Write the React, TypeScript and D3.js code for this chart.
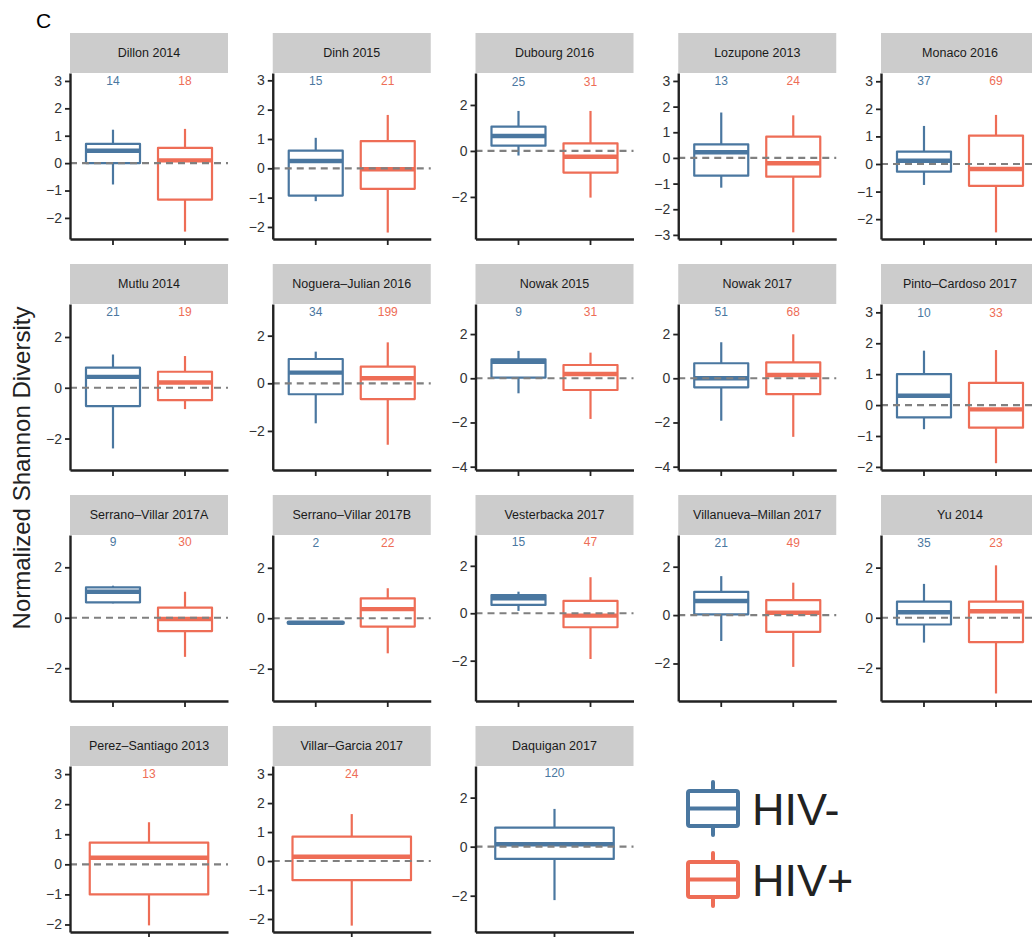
import { useRef, useEffect } from "react";
import * as d3 from "d3";

const studies = [
  "Dillon 2014", "Dinh 2015", "Dubourg 2016", "Lozupone 2013", "Monaco 2016",
  "Mutlu 2014", "Noguera\u2013Julian 2016", "Nowak 2015", "Nowak 2017", "Pinto\u2013Cardoso 2017",
  "Serrano\u2013Villar 2017A", "Serrano\u2013Villar 2017B", "Vesterbacka 2017", "Villanueva\u2013Millan 2017", "Yu 2014",
  "Perez\u2013Santiago 2013", "Villar\u2013Garcia 2017", "Daquigan 2017",
];

const groupLabels = ["HIV-", "HIV+"];

// [lower whisker, Q1, median, Q3, upper whisker]
const hivNegStats = [
  [-0.78, 0.0, 0.45, 0.7, 1.22],
  [-1.12, -0.93, 0.25, 0.6, 1.04],
  [-0.2, 0.23, 0.65, 1.06, 1.74],
  [-1.16, -0.69, 0.22, 0.53, 1.77],
  [-0.76, -0.28, 0.12, 0.45, 1.38],
  [-2.39, -0.72, 0.43, 0.79, 1.31],
  [-1.68, -0.46, 0.45, 1.02, 1.33],
  [-0.68, 0.03, 0.75, 0.86, 1.24],
  [-1.92, -0.41, 0.0, 0.68, 1.63],
  [-0.78, -0.4, 0.3, 1.0, 1.76],
  [0.57, 0.61, 1.03, 1.2, 1.27],
  [-0.18, -0.18, -0.18, -0.18, -0.18],
  [0.1, 0.35, 0.63, 0.77, 0.91],
  [-1.07, 0.03, 0.58, 0.96, 1.61],
  [-0.99, -0.27, 0.22, 0.64, 1.35],
  null,
  null,
  [-2.18, -0.5, 0.1, 0.78, 1.54],
];

const hivPosStats = [
  [-2.5, -1.33, 0.1, 0.56, 1.25],
  [-2.19, -0.7, -0.03, 0.93, 1.82],
  [-2.03, -0.94, -0.25, 0.33, 1.74],
  [-2.9, -0.73, -0.21, 0.83, 1.66],
  [-2.48, -0.79, -0.18, 1.03, 1.78],
  [-0.84, -0.49, 0.21, 0.63, 1.25],
  [-2.58, -0.66, 0.21, 0.7, 1.72],
  [-1.84, -0.53, 0.19, 0.6, 1.16],
  [-2.65, -0.72, 0.15, 0.72, 1.99],
  [-1.88, -0.73, -0.14, 0.72, 1.78],
  [-1.55, -0.53, -0.05, 0.4, 1.03],
  [-1.39, -0.33, 0.36, 0.79, 1.19],
  [-1.93, -0.59, -0.1, 0.52, 1.52],
  [-2.14, -0.69, 0.1, 0.62, 1.34],
  [-3.02, -0.97, 0.26, 0.64, 2.09],
  [-2.03, -1.0, 0.22, 0.72, 1.4],
  [-2.23, -0.66, 0.15, 0.84, 1.62],
  null,
];

const hivNegN = [14, 15, 25, 13, 37, 21, 34, 9, 51, 10, 9, 2, 15, 21, 35, null, null, 120];
const hivPosN = [18, 21, 31, 24, 69, 19, 199, 31, 68, 33, 30, 22, 47, 49, 23, 13, 24, null];

// visible y range of each panel
const yLimits = [
  [-2.77, 3.29], [-2.41, 3.25], [-3.83, 3.39], [-3.16, 3.31], [-2.72, 3.3],
  [-3.24, 3.3], [-3.64, 3.33], [-4.15, 3.36], [-4.15, 3.36], [-2.1, 3.27],
  [-3.3, 3.28], [-3.28, 3.3], [-3.7, 3.3], [-3.55, 3.31], [-3.32, 3.3],
  [-2.25, 3.27], [-2.45, 3.28], [-3.48, 3.29],
];
const tickSteps = [1, 1, 2, 1, 1, 2, 2, 2, 2, 1, 2, 2, 2, 2, 2, 1, 1, 2];
const labelY = 3;

const W = 1032;
const H = 937;
const FONT = "'Liberation Sans', Arial, Helvetica, sans-serif";
const BLUE = "#4A77A0";
const RED = "#EE6D56";
const colors = { "HIV-": BLUE, "HIV+": RED };

export default function App() {
  const svgRef = useRef(null);

  useEffect(() => {
    const svg = d3.select(svgRef.current);
    svg.selectAll("*").remove();

    const panelW = 158;
    const stripH = 40;
    const plotH = 166;

    studies.forEach((name, i) => {
      const col = i % 5;
      const row = Math.floor(i / 5);
      const g = svg.append("g")
        .attr("transform", `translate(${70 + col * 202.75},${33 + row * 231})`);

      // strip
      g.append("rect").attr("width", panelW).attr("height", stripH).attr("fill", "#cccccc");
      g.append("text")
        .attr("x", panelW / 2).attr("y", stripH / 2).attr("dy", "0.35em")
        .attr("text-anchor", "middle")
        .style("font-family", FONT).style("font-size", "12.5px").attr("fill", "#1a1a1a")
        .text(name);

      const series = [
        { key: "HIV-", stats: hivNegStats[i], n: hivNegN[i] },
        { key: "HIV+", stats: hivPosStats[i], n: hivPosN[i] },
      ].filter((d) => d.stats);

      const x = d3.scaleBand()
        .domain(series.map((d) => d.key))
        .range([0, panelW])
        .paddingInner(0.25)
        .paddingOuter(series.length === 1 ? 0.12 : 0.222);

      const y = d3.scaleLinear().domain(yLimits[i]).range([stripH + plotH, stripH]);
      const step = tickSteps[i];
      const ticks = d3.range(Math.ceil(yLimits[i][0] / step) * step, yLimits[i][1], step);

      // boxes
      series.forEach((s) => {
        const [lo, q1, med, q3, hi] = s.stats;
        const c = colors[s.key];
        const bx = x(s.key);
        const bw = x.bandwidth();
        const cx = bx + bw / 2;
        const b = g.append("g").attr("stroke", c).attr("fill", "none");
        b.append("line").attr("x1", cx).attr("x2", cx).attr("y1", y(hi)).attr("y2", y(q3)).attr("stroke-width", 2.2);
        b.append("line").attr("x1", cx).attr("x2", cx).attr("y1", y(q1)).attr("y2", y(lo)).attr("stroke-width", 2.2);
        b.append("rect")
          .attr("x", bx).attr("y", y(q3))
          .attr("width", bw).attr("height", Math.max(0, y(q1) - y(q3)))
          .attr("fill", "#fff").attr("stroke-width", 2.2).attr("stroke-linejoin", "round");
        b.append("line")
          .attr("x1", bx).attr("x2", bx + bw).attr("y1", y(med)).attr("y2", y(med))
          .attr("stroke-width", 4.4).attr("stroke-linecap", q1 === q3 ? "round" : "butt");

        g.append("text")
          .attr("x", cx).attr("y", y(labelY)).attr("dy", "0.35em")
          .attr("text-anchor", "middle")
          .style("font-family", FONT).style("font-size", "12px").attr("fill", c)
          .text(s.n);
      });

      // reference line at 0
      g.append("line")
        .attr("x1", 0).attr("x2", panelW).attr("y1", y(0)).attr("y2", y(0))
        .attr("stroke", "#808080").attr("stroke-width", 2.2).attr("stroke-dasharray", "7,5");

      // axes
      const yAxis = g.append("g")
        .call(d3.axisLeft(y).tickValues(ticks).tickSize(5).tickSizeOuter(0).tickPadding(3).tickFormat(d3.format("d")));
      yAxis.select(".domain").attr("stroke", "#222").attr("stroke-width", 2.4);
      yAxis.selectAll(".tick line").attr("stroke", "#222").attr("stroke-width", 1.8);
      yAxis.selectAll("text").style("font-family", FONT).style("font-size", "14px").attr("fill", "#333");

      const xAxis = g.append("g")
        .attr("transform", `translate(0,${stripH + plotH})`)
        .call(d3.axisBottom(x).tickSize(6).tickSizeOuter(0).tickFormat(() => ""));
      xAxis.select(".domain").attr("stroke", "#222").attr("stroke-width", 2.4);
      xAxis.selectAll(".tick line").attr("stroke", "#222").attr("stroke-width", 1.8);
    });

    // panel letter
    svg.append("text")
      .attr("x", 36).attr("y", 28)
      .style("font-family", FONT).style("font-size", "21px").attr("fill", "#000")
      .text("C");

    // y title
    svg.append("text")
      .attr("transform", "translate(30,468) rotate(-90)")
      .attr("text-anchor", "middle")
      .style("font-family", FONT).style("font-size", "24px").attr("fill", "#222")
      .text("Normalized Shannon Diversity");

    // legend
    groupLabels.forEach((label, k) => {
      const c = colors[label];
      const lg = svg.append("g").attr("transform", `translate(688,${791 + k * 71})`);
      lg.append("line").attr("x1", 25).attr("x2", 25).attr("y1", -9).attr("y2", 44)
        .attr("stroke", c).attr("stroke-width", 4).attr("stroke-linecap", "round");
      lg.append("rect").attr("width", 50).attr("height", 35).attr("rx", 2)
        .attr("fill", "#fff").attr("stroke", c).attr("stroke-width", 4);
      lg.append("line").attr("x1", 0).attr("x2", 50).attr("y1", 17.5).attr("y2", 17.5)
        .attr("stroke", c).attr("stroke-width", 4);
      lg.append("text")
        .attr("x", 64).attr("y", 34)
        .style("font-family", FONT).style("font-size", "45px").attr("fill", "#222")
        .text(label);
    });
  }, []);

  return (
    <svg
      ref={svgRef}
      width={W}
      height={H}
      style={{ position: "absolute", left: 0, top: 0, background: "#fff" }}
    />
  );
}
